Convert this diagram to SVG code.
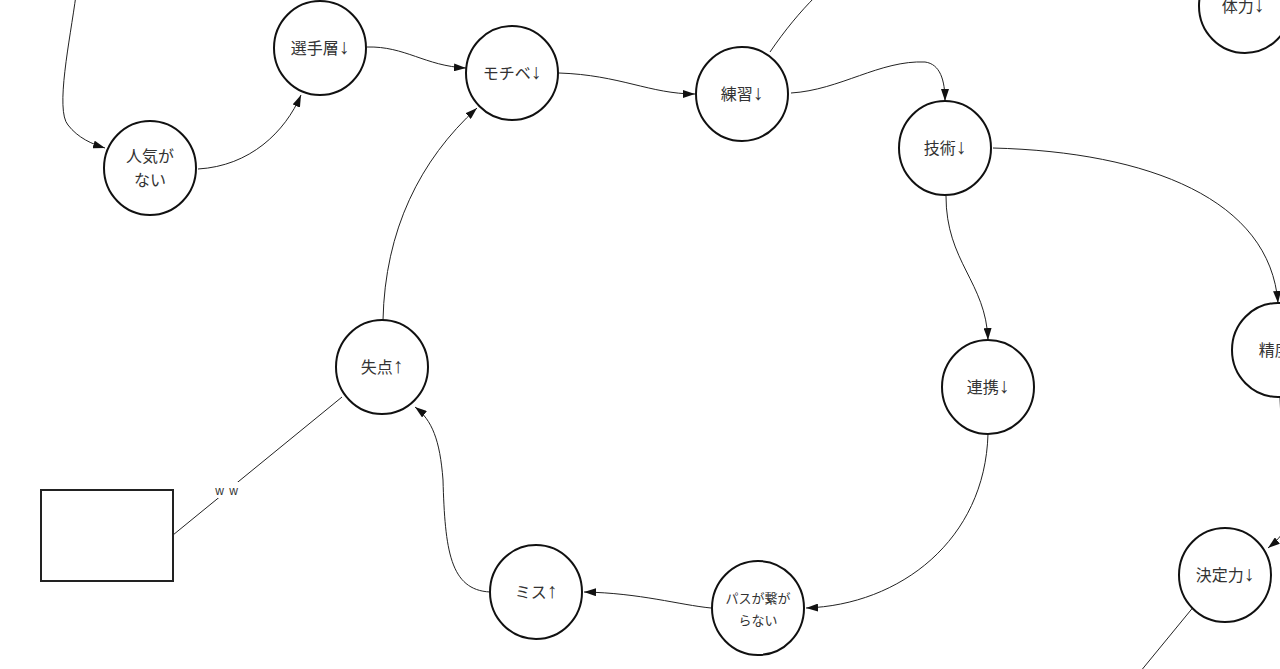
<svg xmlns="http://www.w3.org/2000/svg" width="1280" height="669" viewBox="0 0 1280 669">
<style>
.n{fill:#fff;stroke:#111;stroke-width:2}
.t{font-family:"Noto Sans CJK JP","Liberation Sans",sans-serif;font-size:16px;fill:#333;text-anchor:middle}
.s{font-size:13px}
.r{font-family:"Liberation Sans","DejaVu Sans",sans-serif;font-size:21px;fill:#333}
.c{fill:none;stroke:#222;stroke-width:1}
</style>
<defs>
<marker id="a" viewBox="0 0 12 8" refX="12" refY="4" markerWidth="12" markerHeight="8" markerUnits="userSpaceOnUse" orient="auto">
<path d="M0 0L12 4L0 8z" fill="#111"/>
</marker>
</defs>
<rect width="1280" height="669" fill="#fff"/>
<g id="connectors">
<path class="c" d="M76 -5C70 40 55 110 68 125C78 138 92 144 105 148" marker-end="url(#a)"/>
<path class="c" d="M198 169C250 166 285 132 301 95" marker-end="url(#a)"/>
<path class="c" d="M367 47C405 46 425 66 466 68" marker-end="url(#a)"/>
<path class="c" d="M559 73C620 75 650 94 695 94" marker-end="url(#a)"/>
<path class="c" d="M770 52C785 30 800 12 815 -3"/>
<path class="c" d="M791 93C840 90 880 60 925 62C940 64 945 80 945 101" marker-end="url(#a)"/>
<path class="c" d="M993 148C1150 152 1270 200 1278 303" marker-end="url(#a)"/>
<path class="c" d="M946 196C946 262 986 282 988 340" marker-end="url(#a)"/>
<path class="c" d="M988 434C985 540 900 605 806 608" marker-end="url(#a)"/>
<path class="c" d="M711 608C680 605 640 593 584 592" marker-end="url(#a)"/>
<path class="c" d="M490 592C450 590 445 550 443 480C440 440 432 420 415 407" marker-end="url(#a)"/>
<path class="c" d="M383 320C385 230 420 160 477 108" marker-end="url(#a)"/>
<path class="c" d="M1280 398L1281 420"/>
<path class="c" d="M1290 520C1285 532 1278 540 1268 548" marker-end="url(#a)"/>
<path class="c" d="M1195 605L1140 672"/>
<path class="c" d="M173 535L342 397"/>
<rect x="212" y="482" width="32" height="16" fill="#fff"/>
<text class="t" x="227" y="495" style="font-family:'Liberation Sans',sans-serif;font-size:12px;letter-spacing:1px">w w</text>
</g>
<g id="n-box"><rect x="41" y="490" width="132" height="91" fill="#fff" stroke="#222" stroke-width="2"/></g>
<g id="n-senshu"><ellipse class="n" cx="320" cy="48" rx="46" ry="47"/><text class="t" x="320" y="54">選手層<tspan class="r">↓</tspan></text></g>
<g id="n-ninki"><ellipse class="n" cx="150" cy="168" rx="46" ry="47"/><text class="t" x="150" y="162">人気が</text><text class="t" x="150" y="186">ない</text></g>
<g id="n-mochibe"><ellipse class="n" cx="512" cy="73" rx="46" ry="47"/><text class="t" x="512" y="79">モチベ<tspan class="r">↓</tspan></text></g>
<g id="n-renshu"><ellipse class="n" cx="742" cy="94" rx="46" ry="47"/><text class="t" x="742" y="100">練習<tspan class="r">↓</tspan></text></g>
<g id="n-gijutsu"><ellipse class="n" cx="945" cy="148" rx="46" ry="47"/><text class="t" x="945" y="154">技術<tspan class="r">↓</tspan></text></g>
<g id="n-tairyoku"><ellipse class="n" cx="1245" cy="6" rx="46" ry="47"/><text class="t" x="1243" y="12">体力<tspan class="r">↓</tspan></text></g>
<g id="n-seido"><ellipse class="n" cx="1278" cy="350" rx="46" ry="47"/><text class="t" x="1280" y="356">精度<tspan class="r">↓</tspan></text></g>
<g id="n-renkei"><ellipse class="n" cx="988" cy="387" rx="46" ry="47"/><text class="t" x="988" y="393">連携<tspan class="r">↓</tspan></text></g>
<g id="n-ketteiryoku"><ellipse class="n" cx="1225" cy="575" rx="46" ry="47"/><text class="t" x="1225" y="581">決定力<tspan class="r">↓</tspan></text></g>
<g id="n-pass"><ellipse class="n" cx="758" cy="608" rx="46" ry="47"/><text class="t s" x="758" y="603">パスが繋が</text><text class="t s" x="758" y="625">らない</text></g>
<g id="n-miss"><ellipse class="n" cx="536" cy="592" rx="46" ry="47"/><text class="t" x="536" y="598">ミス<tspan class="r">↑</tspan></text></g>
<g id="n-shitten"><ellipse class="n" cx="382" cy="367" rx="46" ry="47"/><text class="t" x="382" y="373">失点<tspan class="r">↑</tspan></text></g>
</svg>
